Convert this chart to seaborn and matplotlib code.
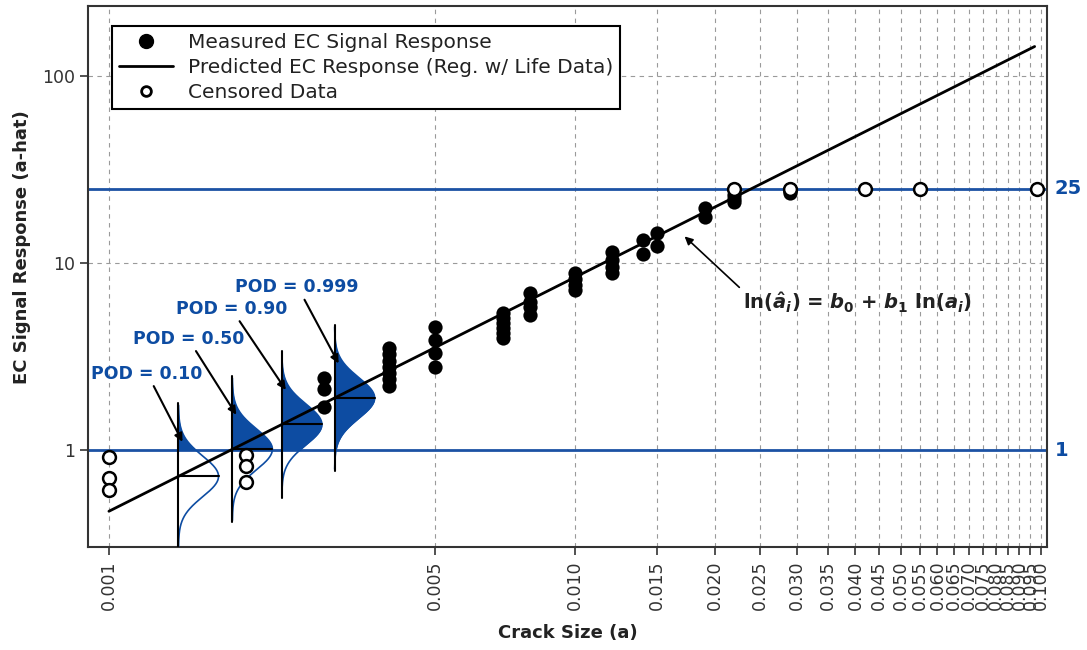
import matplotlib

matplotlib.use("Agg")
import matplotlib.pyplot as plt
import matplotlib.ticker as mticker
import numpy as np
import pandas as pd
import seaborn as sns
from matplotlib.lines import Line2D

# measured EC signal responses (crack size a, response a-hat)
meas_size = [0.0029, 0.0029, 0.0029,
             0.004, 0.004, 0.004, 0.004, 0.004, 0.004, 0.004,
             0.005, 0.005, 0.005, 0.005,
             0.007, 0.007, 0.007, 0.007, 0.007, 0.007,
             0.008, 0.008, 0.008, 0.008,
             0.010, 0.010, 0.010, 0.010,
             0.012, 0.012, 0.012, 0.012,
             0.014, 0.014,
             0.015, 0.015,
             0.019, 0.019,
             0.022, 0.022, 0.022,
             0.029, 0.029, 0.029]
meas_resp = [2.43, 2.12, 1.70,
             3.5, 3.25, 3.0, 2.8, 2.6, 2.4, 2.2,
             4.55, 3.9, 3.3, 2.8,
             5.4, 5.1, 4.8, 4.5, 4.25, 4.0,
             6.9, 6.2, 5.8, 5.3,
             8.9, 8.2, 7.6, 7.2,
             11.4, 10.4, 9.5, 8.9,
             13.3, 11.2,
             14.5, 12.4,
             19.7, 17.6,
             23.1, 22.0, 21.2,
             25.0, 24.2, 23.6]

# censored observations
cens_size = [0.001, 0.001, 0.001, 0.00197, 0.00197, 0.00197,
             0.022, 0.029, 0.042, 0.055, 0.098]
cens_resp = [0.92, 0.71, 0.61, 0.94, 0.82, 0.68,
             25, 25, 25, 25, 25]

# ln(a-hat) = b0 + b1 ln(a), residual sd tau
b0, b1, tau = 7.884, 1.25, 0.25
fit_range = [0.001, 0.097]

thresholds = [25, 1]
threshold_labels = ["25", "1"]

pod_labels = ["POD = 0.10", "POD = 0.50", "POD = 0.90", "POD = 0.999"]
pod_sizes = [0.00141, 0.00184, 0.00235, 0.00305]

xticks = [0.001] + [round(0.005 * k, 3) for k in range(1, 21)]
yticks = [1, 10, 100]

legend_labels = [
    "Measured EC Signal Response",
    "Predicted EC Response (Reg. w/ Life Data)",
    "Censored Data",
]

# styling
BLUE = "#0d4ca2"
LINE_BLUE = "#1c52a4"
GRID = "#9a9a9a"
DARK = "#333333"
pod_offsets = [(-36, 59), (-48, 67), (-54, 72), (-42, 67)]  # pixels, text vs arrow tip
dist_width = 0.086  # decades of x at the peak of each density


def main():
    sns.set_style("ticks")
    plt.rcParams["font.family"] = ["DejaVu Sans"]
    plt.rcParams["mathtext.fontset"] = "custom"
    plt.rcParams["mathtext.rm"] = "DejaVu Sans:bold"
    plt.rcParams["mathtext.it"] = "DejaVu Sans:bold:italic"
    plt.rcParams["mathtext.bf"] = "DejaVu Sans:bold"

    fig, ax = plt.subplots(figsize=(10.87, 6.5), dpi=100)
    fig.subplots_adjust(left=0.081, right=0.963, top=0.991, bottom=0.158)
    ax.set_xscale("log")
    ax.set_yscale("log")

    for t in thresholds:
        ax.axhline(t, color=LINE_BLUE, lw=2, zorder=2)

    fit = pd.DataFrame({"a": fit_range})
    fit["ahat"] = np.exp(b0 + b1 * np.log(fit["a"]))
    sns.lineplot(data=fit, x="a", y="ahat", color="black", lw=2,
                 ax=ax, zorder=4, legend=False)

    # response distributions at the POD crack sizes
    z = np.linspace(-3.5, 3.5, 400)
    for a_i, lab, off in zip(pod_sizes, pod_labels, pod_offsets):
        mu = b0 + b1 * np.log(a_i)
        y = np.exp(mu + z * tau)
        x = a_i * 10 ** (dist_width * np.exp(-z ** 2 / 2))
        ax.fill_betweenx(y, a_i, x, where=y >= 1, interpolate=True,
                         color=BLUE, lw=0, zorder=3)
        ax.plot(x, y, color=BLUE, lw=1.2, zorder=3)
        ax.plot([a_i, a_i], np.exp(mu + np.array([-3.6, 3.6]) * tau),
                color="black", lw=1.5, zorder=4)
        ax.plot([a_i, a_i * 10 ** dist_width], [np.exp(mu)] * 2,
                color="black", lw=1.5, zorder=4)
        ax.annotate(
            lab,
            xy=(a_i * 1.02, np.exp(mu + 1.7 * tau)),
            xytext=off,
            textcoords="offset pixels",
            ha="center",
            va="bottom",
            color=BLUE,
            fontsize=12.5,
            fontweight="bold",
            zorder=6,
            arrowprops=dict(arrowstyle="-|>", color="black", lw=1.5,
                            mutation_scale=12, shrinkA=0, shrinkB=0,
                            relpos=(0.55, 0)),
        )

    sns.scatterplot(x=meas_size, y=meas_resp, color="black", s=105,
                    linewidth=0, ax=ax, zorder=5)
    sns.scatterplot(x=cens_size, y=cens_resp, color="white", edgecolor="black",
                    s=85, linewidth=1.8, ax=ax, zorder=5)

    # regression equation with arrow to the fitted line
    a_eq = 0.0172
    ax.annotate(
        r"ln($\hat{a}_i$) = $b_0$ + $b_1$ ln($a_i$)",
        xy=(a_eq, 0.84 * np.exp(b0 + b1 * np.log(a_eq))),
        xytext=(58, -54),
        textcoords="offset pixels",
        ha="left",
        va="top",
        fontsize=14,
        fontweight="bold",
        color="#222222",
        arrowprops=dict(arrowstyle="-|>", color="black", lw=1.2,
                        mutation_scale=12, shrinkA=0, shrinkB=0,
                        relpos=(0, 1)),
    )

    for t, lab in zip(thresholds, threshold_labels):
        ax.text(1.008, t, lab, transform=ax.get_yaxis_transform(),
                ha="left", va="center", color=BLUE, fontsize=14,
                fontweight="bold", clip_on=False)

    ax.set_xlim(0.000902, 0.103)
    ax.set_ylim(0.303, 237)
    ax.xaxis.set_major_locator(mticker.FixedLocator(xticks))
    ax.xaxis.set_minor_locator(mticker.NullLocator())
    ax.xaxis.set_major_formatter(mticker.FuncFormatter(lambda v, p: f"{v:.3f}"))
    ax.yaxis.set_major_locator(mticker.FixedLocator(yticks))
    ax.yaxis.set_minor_locator(mticker.NullLocator())
    ax.yaxis.set_major_formatter(mticker.FuncFormatter(lambda v, p: f"{v:g}"))
    ax.tick_params(axis="x", labelrotation=90)
    ax.tick_params(direction="out", length=6, width=1.2, color=DARK,
                   labelsize=12.5, labelcolor=DARK)
    ax.grid(True, which="major", ls=(0, (4, 4)), color=GRID, lw=0.8)
    for sp in ax.spines.values():
        sp.set_color(DARK)
        sp.set_linewidth(1.5)

    ax.set_xlabel("Crack Size (a)", fontsize=13, fontweight="bold",
                  color="#222222", labelpad=10)
    ax.set_ylabel("EC Signal Response (a-hat)", fontsize=13,
                  fontweight="bold", color="#222222")
    ax.yaxis.set_label_coords(-0.060, 0.555)

    handles = [
        Line2D([], [], marker="o", color="black", ls="none", markersize=10),
        Line2D([], [], color="black", lw=2),
        Line2D([], [], marker="o", mfc="white", mec="black", mew=2,
               ls="none", markersize=7),
    ]
    leg = ax.legend(handles, legend_labels, loc="upper left",
                    bbox_to_anchor=(0.025, 0.963), borderaxespad=0,
                    frameon=True, fancybox=False, edgecolor="black",
                    fontsize=14.5, handlelength=2.7, handletextpad=0.7,
                    labelspacing=0.3, borderpad=0.35, framealpha=1)
    leg.get_frame().set_linewidth(1.5)
    for txt in leg.get_texts():
        txt.set_color("#222222")

    fig.savefig("out.png", dpi=100)


if __name__ == "__main__":
    main()
